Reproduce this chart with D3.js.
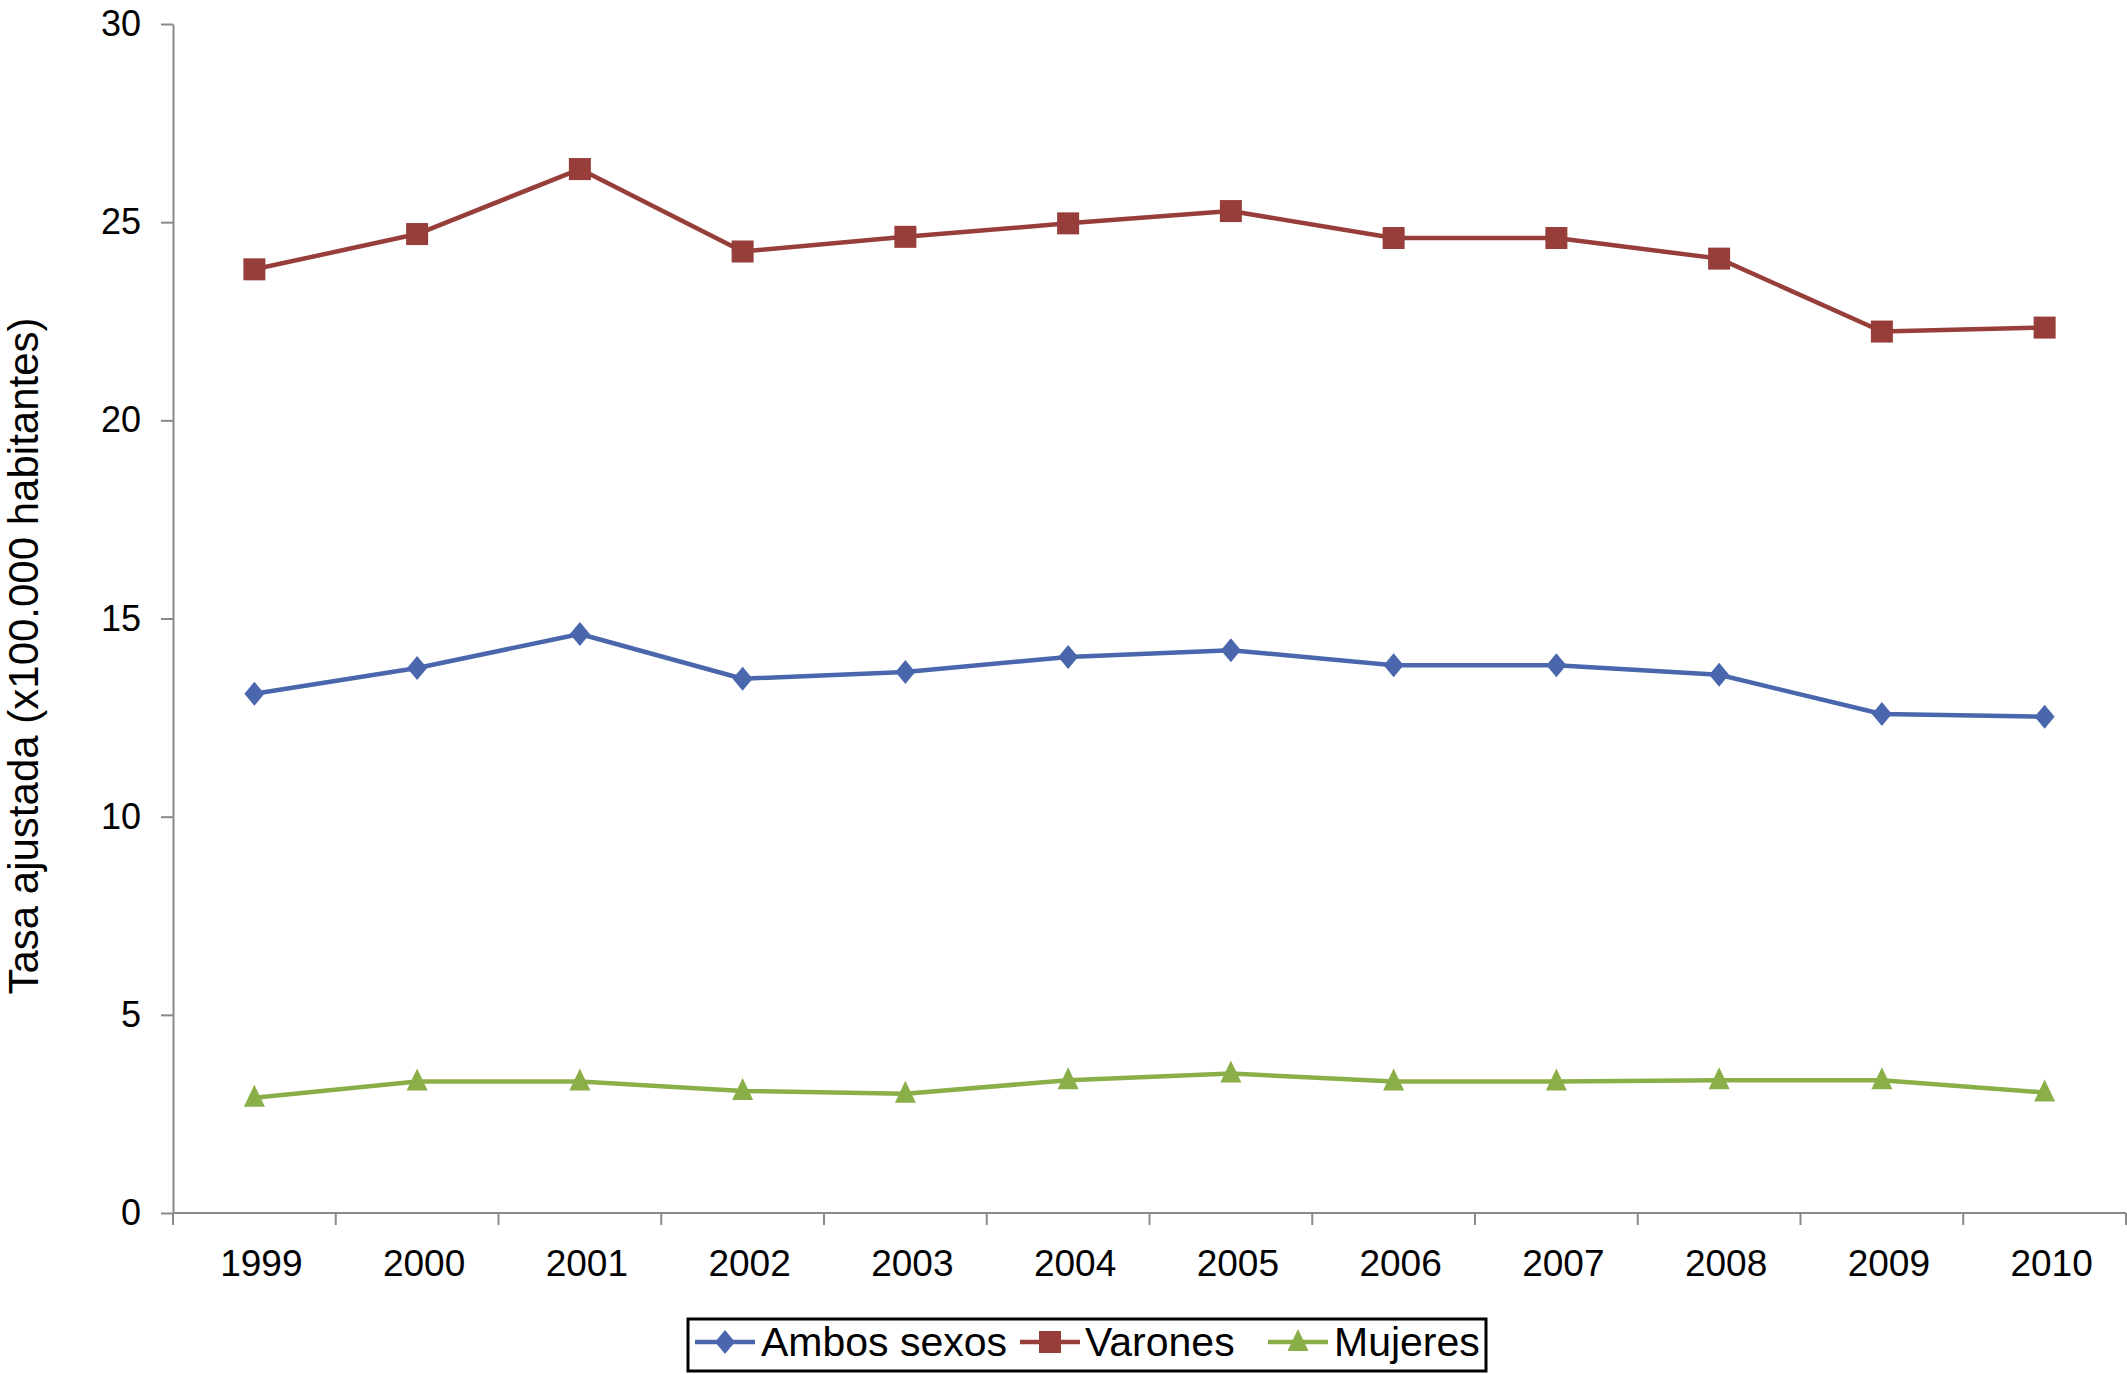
<!DOCTYPE html>
<html>
<head>
<meta charset="utf-8">
<script src="https://cdn.jsdelivr.net/npm/d3@7/dist/d3.min.js"></script>
<style>
  html, body { margin: 0; padding: 0; background: #fff; }
  svg { display: block; font-family: "Liberation Sans", Arial, sans-serif; }
</style>
</head>
<body>
<svg id="chart" width="2127" height="1374"></svg>
<script>
const years = ["1999","2000","2001","2002","2003","2004","2005","2006","2007","2008","2009","2010"];
const ambos   = [13.10, 13.75, 14.61, 13.48, 13.65, 14.03, 14.20, 13.82, 13.82, 13.58, 12.59, 12.52];
const varones = [23.81, 24.70, 26.34, 24.26, 24.63, 24.97, 25.28, 24.60, 24.60, 24.08, 22.24, 22.34];
const mujeres = [2.91, 3.32, 3.32, 3.08, 3.01, 3.35, 3.52, 3.32, 3.32, 3.35, 3.35, 3.04];
const yTicks = [0, 5, 10, 15, 20, 25, 30];
const seriesNames = ["Ambos sexos", "Varones", "Mujeres"];
const yTitle = "Tasa ajustada (x100.000 habitantes)";

const colors = ["#4A66AC", "#973E3B", "#8AAE48"];
const series = [
  {name: seriesNames[0], values: ambos, color: colors[0], shape: "diamond"},
  {name: seriesNames[1], values: varones, color: colors[1], shape: "square"},
  {name: seriesNames[2], values: mujeres, color: colors[2], shape: "triangle"}
];

const svg = d3.select("#chart");
const mLeft = 173, mRight = 2126, mTop = 24, mBottom = 1213;

const x = d3.scaleBand().domain(years).range([mLeft, mRight]).padding(0);
const y = d3.scaleLinear().domain([0, 30]).range([mBottom, mTop]);
const axisColor = "#8a8a8a";

// Y axis
const yAxis = svg.append("g").attr("transform", `translate(${mLeft},0)`)
  .call(d3.axisLeft(y).tickValues(yTicks).tickSize(12).tickSizeOuter(0).tickPadding(20));
yAxis.select(".domain").attr("stroke", axisColor).attr("stroke-width", 2);
yAxis.selectAll(".tick line").attr("stroke", axisColor).attr("stroke-width", 2);
yAxis.selectAll(".tick text").attr("font-size", 36).attr("fill", "#000")
  .attr("font-family", "Liberation Sans, Arial, sans-serif");

// X axis line
svg.append("line").attr("x1", mLeft).attr("x2", mRight).attr("y1", mBottom).attr("y2", mBottom)
  .attr("stroke", axisColor).attr("stroke-width", 2);
// X ticks at band edges
const edges = years.map(d => x(d)).concat([x.range()[1]]);
svg.append("g").selectAll("line").data(edges).join("line")
  .attr("x1", d => d).attr("x2", d => d).attr("y1", mBottom).attr("y2", mBottom + 12)
  .attr("stroke", axisColor).attr("stroke-width", 2);
// X labels
svg.append("g").selectAll("text").data(years).join("text")
  .attr("x", d => x(d) + x.bandwidth() / 2 + 7)
  .attr("y", 1276)
  .attr("text-anchor", "middle")
  .attr("font-size", 37)
  .attr("fill", "#000")
  .text(d => d);

// Y title
svg.append("text")
  .attr("transform", `translate(38,656) rotate(-90)`)
  .attr("text-anchor", "middle")
  .attr("font-size", 42)
  .attr("fill", "#000")
  .text(yTitle);

function marker(g, shape, color) {
  if (shape === "diamond") {
    g.append("path").attr("d", "M0,-12 L10,0 L0,12 L-10,0 Z").attr("fill", color);
  } else if (shape === "square") {
    g.append("rect").attr("x", -11).attr("y", -11).attr("width", 22).attr("height", 22).attr("fill", color);
  } else {
    g.append("path").attr("d", "M0,-13 L10.5,9 L-10.5,9 Z").attr("fill", color);
  }
}

const line = d3.line().x((d, i) => x(years[i]) + x.bandwidth() / 2).y(d => y(d));

series.forEach(s => {
  svg.append("path").datum(s.values)
    .attr("d", line)
    .attr("fill", "none")
    .attr("stroke", s.color)
    .attr("stroke-width", 4.5)
    .attr("stroke-linejoin", "round");
  const mg = svg.append("g");
  s.values.forEach((v, i) => {
    const g = mg.append("g").attr("transform", `translate(${x(years[i]) + x.bandwidth() / 2},${y(v)})`);
    marker(g, s.shape, s.color);
  });
});

// Legend
const lg = svg.append("g");
lg.append("rect").attr("x", 688).attr("y", 1319).attr("width", 798).attr("height", 52)
  .attr("fill", "#fff").attr("stroke", "#000").attr("stroke-width", 3);
const legendItems = [
  {lx1: 695, lx2: 755, tx: 761},
  {lx1: 1020, lx2: 1080, tx: 1085},
  {lx1: 1268, lx2: 1328, tx: 1334}
];
series.forEach((s, i) => {
  const it = legendItems[i];
  const cy = 1342;
  lg.append("line").attr("x1", it.lx1).attr("x2", it.lx2).attr("y1", cy).attr("y2", cy)
    .attr("stroke", s.color).attr("stroke-width", 4.5);
  const g = lg.append("g").attr("transform", `translate(${(it.lx1 + it.lx2) / 2},${cy})`);
  marker(g, s.shape, s.color);
  lg.append("text").attr("x", it.tx).attr("y", 1356)
    .attr("font-size", 41).attr("fill", "#000").text(s.name);
});
</script>
</body>
</html>
